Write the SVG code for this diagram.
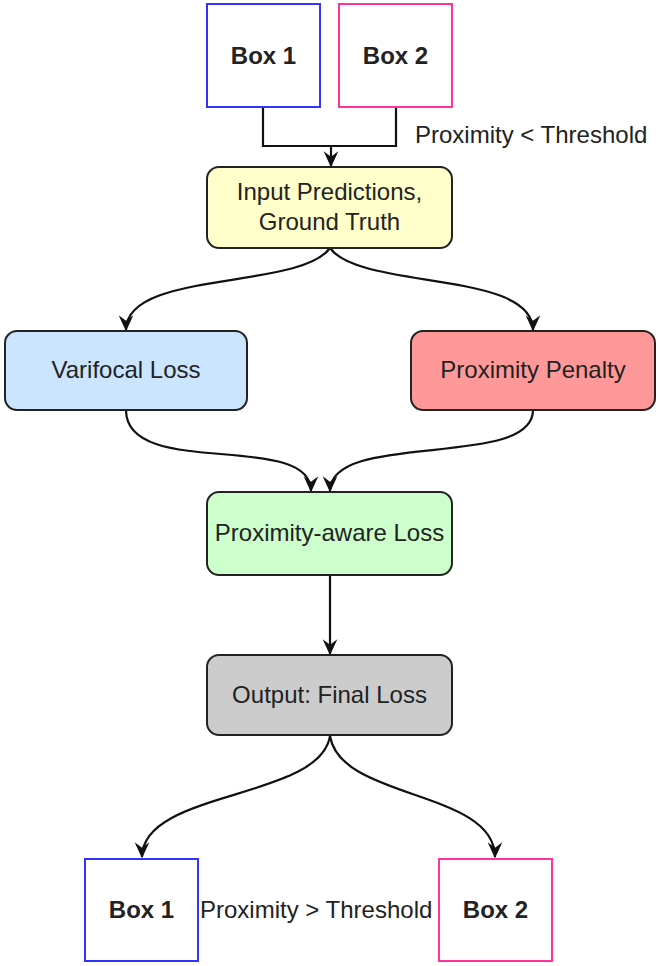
<svg xmlns="http://www.w3.org/2000/svg" width="660" height="966" viewBox="0 0 660 966">
<defs>
<style>
.t{font-family:"Liberation Sans",Arial,sans-serif;font-size:24px;fill:#222;text-anchor:middle}
.b{font-weight:bold}
.lbl{font-family:"Liberation Sans",Arial,sans-serif;font-size:24px;fill:#222}
.node{stroke:#222;stroke-width:2}
.c{fill:none;stroke:#111;stroke-width:2.2}
</style>
<marker id="arr" viewBox="0 0 12 12" refX="11" refY="6" markerWidth="16" markerHeight="16" markerUnits="userSpaceOnUse" orient="auto">
<path d="M0,0.5 L12,6 L0,11.5 L4,6 Z" fill="#111"/>
</marker>
</defs>
<rect width="660" height="966" fill="#fff"/>

<g id="connectors">
<path class="c" d="M263,107 V146 H396 V107" stroke="#444"/>
<path class="c" d="M331,146 V166" marker-end="url(#arr)"/>
<path class="c" d="M330,248 C300,290 126,270 126,330" marker-end="url(#arr)"/>
<path class="c" d="M330,248 C360,290 533,270 533,330" marker-end="url(#arr)"/>
<path class="c" d="M126,410 C126,480 311,430 311,491" marker-end="url(#arr)"/>
<path class="c" d="M533,410 C533,470 330,430 330,491" marker-end="url(#arr)"/>
<path class="c" d="M330,575 V654" marker-end="url(#arr)"/>
<path class="c" d="M330,736 C320,800 142,790 142,857" marker-end="url(#arr)"/>
<path class="c" d="M330,736 C340,800 495,790 495,857" marker-end="url(#arr)"/>
</g>

<g id="box1-top">
<rect x="207" y="4" width="113" height="103" fill="#fff" stroke="#3333ff" stroke-width="2"/>
<text class="t b" x="263.5" y="64">Box 1</text>
</g>
<g id="box2-top">
<rect x="339" y="4" width="113" height="103" fill="#fff" stroke="#ff3399" stroke-width="2"/>
<text class="t b" x="395.5" y="64">Box 2</text>
</g>
<g id="label-lt">
<text class="lbl" x="415" y="143">Proximity &lt; Threshold</text>
</g>

<g id="input">
<rect class="node" x="207" y="167" width="245" height="81" rx="12" fill="#ffffcc"/>
<text class="t" x="329.5" y="200">Input Predictions,</text>
<text class="t" x="329.5" y="230">Ground Truth</text>
</g>

<g id="varifocal">
<rect class="node" x="5" y="331" width="242" height="79" rx="12" fill="#cce5ff"/>
<text class="t" x="126" y="378">Varifocal Loss</text>
</g>
<g id="penalty">
<rect class="node" x="411" y="331" width="244" height="79" rx="12" fill="#ff9999"/>
<text class="t" x="533" y="378">Proximity Penalty</text>
</g>

<g id="aware">
<rect class="node" x="207" y="492" width="245" height="83" rx="12" fill="#ccffcc"/>
<text class="t" x="329.5" y="541">Proximity-aware Loss</text>
</g>

<g id="output">
<rect class="node" x="207" y="655" width="245" height="80" rx="12" fill="#cccccc"/>
<text class="t" x="329.5" y="703">Output: Final Loss</text>
</g>

<g id="box1-bottom">
<rect x="85" y="859" width="113" height="102" fill="#fff" stroke="#3333ff" stroke-width="2"/>
<text class="t b" x="141.5" y="918">Box 1</text>
</g>
<g id="box2-bottom">
<rect x="439" y="859" width="113" height="102" fill="#fff" stroke="#ff3399" stroke-width="2"/>
<text class="t b" x="495.5" y="918">Box 2</text>
</g>
<g id="label-gt">
<text class="lbl" x="200" y="918">Proximity &gt; Threshold</text>
</g>
</svg>
